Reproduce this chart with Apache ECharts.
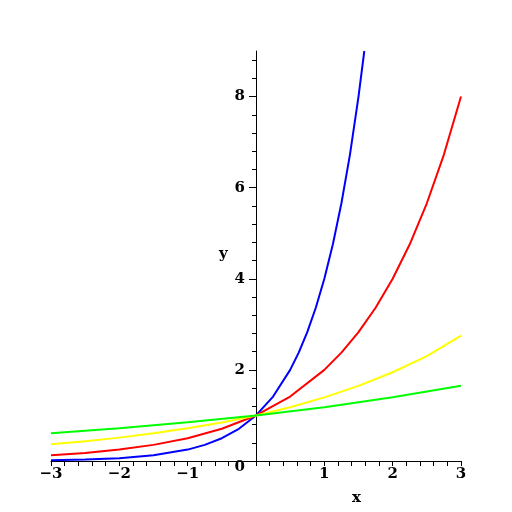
<!DOCTYPE html>
<html>
<head>
<meta charset="utf-8">
<script src="https://cdn.jsdelivr.net/npm/echarts@6/dist/echarts.min.js"></script>
<style>html,body{margin:0;padding:0;background:#fff}#c{width:512px;height:512px}</style>
</head>
<body>
<div id="c"></div>
<script>
// Values
const blueX = [-3, -2.5, -2, -1.5, -1, -0.75, -0.5, -0.25, 0, 0.25, 0.5, 0.625, 0.75, 0.875, 1, 1.125, 1.25, 1.375, 1.5, 1.585];
const blueY = [0.016, 0.031, 0.063, 0.125, 0.25, 0.354, 0.5, 0.707, 1, 1.414, 2, 2.378, 2.828, 3.364, 4, 4.757, 5.657, 6.727, 8, 9];
const redX = [-3, -2.5, -2, -1.5, -1, -0.5, 0, 0.5, 1, 1.25, 1.5, 1.75, 2, 2.25, 2.5, 2.75, 3];
const redY = [0.125, 0.177, 0.25, 0.354, 0.5, 0.707, 1, 1.414, 2, 2.378, 2.828, 3.364, 4, 4.757, 5.657, 6.727, 8];
const yellowX = [-3, -2.5, -2, -1.5, -1, -0.5, 0, 0.5, 1, 1.5, 2, 2.5, 3];
const yellowY = [0.368, 0.435, 0.513, 0.607, 0.717, 0.846, 1, 1.181, 1.396, 1.649, 1.948, 2.301, 2.75];
const greenX = [-3, -2, -1, 0, 1, 2, 3];
const greenY = [0.61, 0.72, 0.85, 1, 1.18, 1.40, 1.65];
const yMajorTicks = [0, 2, 4, 6, 8];
const yMinorTicks = [0.4, 0.8, 1.2, 1.6, 2.4, 2.8, 3.2, 3.6, 4.4, 4.8, 5.2, 5.6, 6.4, 6.8, 7.2, 7.6, 8.4, 8.8];

const pairs = (xs, ys) => xs.map((x, i) => [x, ys[i]]);
const font = '"DejaVu Serif", "Liberation Serif", serif';
const fs = 15;
const minus = v => String(v).replace('-', '\u2212');

// grid geometry: x from -3..3 over 51..461 px, so x=0 sits at half the width
const gridLeft = 51, gridRight = 51;
const yAxisShift = -(512 - gridLeft - gridRight) / 2;

const chart = echarts.init(document.getElementById('c'), null, {renderer: 'canvas'});
const mkSeries = (xs, ys, color) => ({
  type: 'line', data: pairs(xs, ys), showSymbol: false, symbol: 'none',
  lineStyle: {color: color, width: 2}, itemStyle: {color: color}, animation: false, z: 3
});
chart.setOption({
  animation: false,
  backgroundColor: '#ffffff',
  grid: {left: gridLeft, right: gridRight, top: 51, bottom: 51, containLabel: false},
  xAxis: {
    type: 'value', min: -3, max: 3, interval: 1,
    axisLine: {onZero: false, lineStyle: {color: '#000', width: 1}},
    axisTick: {show: true, length: 5, lineStyle: {color: '#000'}},
    minorTick: {show: true, splitNumber: 5, length: 5, lineStyle: {color: '#000'}},
    splitLine: {show: false}, minorSplitLine: {show: false},
    axisLabel: {
      margin: 6, color: '#000', fontFamily: font, fontSize: fs, fontWeight: 'bold',
      formatter: v => v === 0 ? '' : minus(v)
    }
  },
  yAxis: [{
    type: 'value', min: 0, max: 9, position: 'left', offset: yAxisShift,
    axisLine: {onZero: false, lineStyle: {color: '#000', width: 1}},
    axisTick: {show: true, length: 7, customValues: yMajorTicks, lineStyle: {color: '#000'}},
    splitLine: {show: false},
    axisLabel: {
      customValues: yMajorTicks, margin: 11, color: '#000', fontFamily: font, fontSize: fs, fontWeight: 'bold',
      formatter: v => v === 0 ? '{z|0}' : String(v),
      rich: {z: {padding: [13, 0, 0, 0], fontFamily: font, fontSize: fs, fontWeight: 'bold', color: '#000'}}
    }
  }, {
    type: 'value', min: 0, max: 9, position: 'left', offset: yAxisShift,
    axisLine: {show: false, onZero: false},
    axisTick: {show: true, length: 4, customValues: yMinorTicks, lineStyle: {color: '#000'}},
    splitLine: {show: false},
    axisLabel: {show: false}
  }],
  graphic: [
    {type: 'text', left: 352, top: 491, style: {text: 'x', font: 'bold ' + fs + 'px ' + font, fill: '#000'}},
    {type: 'text', left: 219, top: 247, style: {text: 'y', font: 'bold ' + fs + 'px ' + font, fill: '#000'}}
  ],
  series: [
    mkSeries(blueX, blueY, '#0000ff'),
    mkSeries(redX, redY, '#ff0000'),
    mkSeries(yellowX, yellowY, '#ffff00'),
    mkSeries(greenX, greenY, '#00ff00')
  ]
});
</script>
</body>
</html>
